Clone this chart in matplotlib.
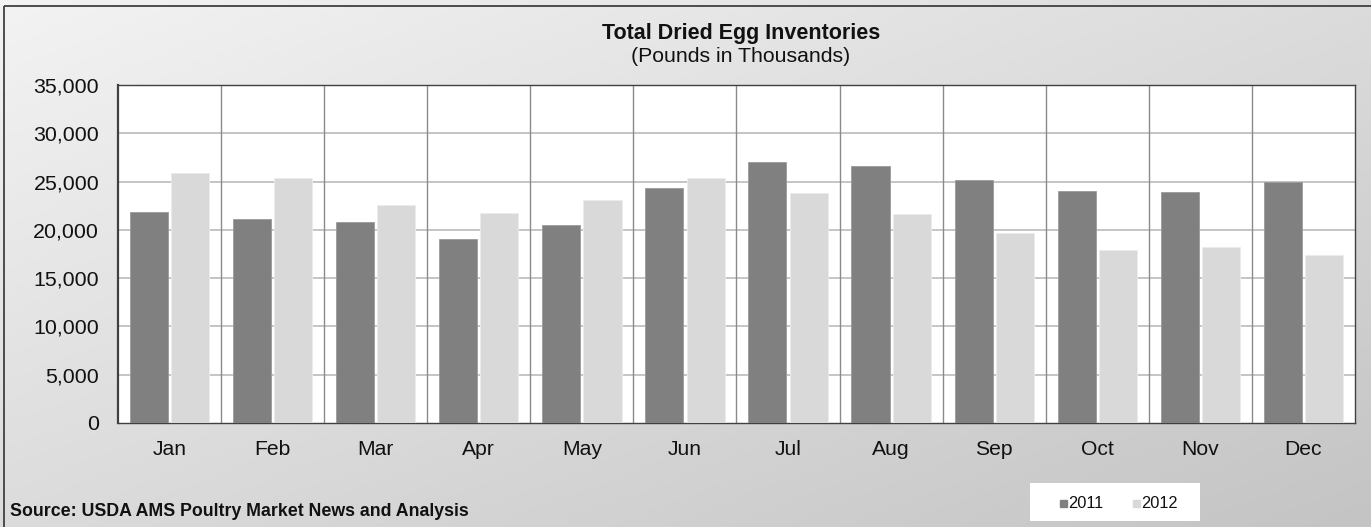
import numpy as np
import matplotlib
matplotlib.use("Agg")
import matplotlib.pyplot as plt
from matplotlib.patches import Rectangle

plt.rcParams['font.family'] = ['Liberation Sans', 'DejaVu Sans']

# data (pounds in thousands)
months = ['Jan', 'Feb', 'Mar', 'Apr', 'May', 'Jun', 'Jul', 'Aug', 'Sep', 'Oct', 'Nov', 'Dec']
inv_2011 = [21800, 21100, 20850, 19100, 20500, 24300, 27000, 26600, 25150, 24050, 23950, 25000]
inv_2012 = [25850, 25400, 22550, 21700, 23100, 25400, 23850, 21600, 19700, 17900, 18250, 17350]
yticks = [0, 5000, 10000, 15000, 20000, 25000, 30000, 35000]

W, H = 1371, 527
fig = plt.figure(figsize=(W / 100, H / 100), dpi=100)

# gradient background
bg = fig.add_axes([0, 0, 1, 1], zorder=-10)
gx, gy = np.meshgrid(np.linspace(0, 1, 300), np.linspace(0, 1, 120))
grad = 0.5 * gx + 0.5 * gy
cmap = matplotlib.colors.LinearSegmentedColormap.from_list('g', ['#f3f3f3', '#c4c4c4'])
bg.imshow(grad, cmap=cmap, aspect='auto', extent=[0, W, H, 0])
bg.set_xlim(0, W)
bg.set_ylim(H, 0)
bg.add_patch(Rectangle((4, 6), W + 10, H + 10, fill=False, ec='#404040', lw=1.3))
bg.axis('off')

ax = fig.add_axes([118 / W, 1 - 423 / H, (1355 - 118) / W, (423 - 85) / H])
ax.set_facecolor('white')

x = np.arange(len(months))
bw = 0.37
ax.bar(x - 0.2, inv_2011, bw, color='#808080', edgecolor='#9a9a9a', lw=0.6, zorder=3, label='2011')
ax.bar(x + 0.2, inv_2012, bw, color='#d9d9d9', edgecolor='#ececec', lw=0.6, zorder=3, label='2012')

ax.set_xlim(-0.5, 11.5)
ax.set_ylim(0, 35000)
ax.set_yticks(yticks)
ax.set_yticklabels([f'{v:,}' for v in yticks], fontsize=15.4, color='#111111')
ax.set_xticks(x)
ax.set_xticklabels(months, fontsize=15.2, color='#111111')
ax.tick_params(axis='y', length=0, pad=13.5)
ax.tick_params(axis='x', length=0, pad=12)

for yv in yticks[1:-1]:
    ax.axhline(yv, color='#c0c0c0', lw=1.3, zorder=1)
for xv in np.arange(0.5, 11.5, 1):
    ax.axvline(xv, color='#8a8a8a', lw=1.0, zorder=1)
for s in ax.spines.values():
    s.set_color('#404040')
    s.set_linewidth(1.0)
ax.spines['left'].set_linewidth(1.6)

fig.text(741.5 / W, 1 - 33 / H, 'Total Dried Egg Inventories', ha='center', va='center',
         fontsize=15.5, fontweight='bold', color='#111111')
fig.text(741 / W, 1 - 57 / H, '(Pounds in Thousands)', ha='center', va='center',
         fontsize=15.3, color='#111111')
fig.text(10 / W, 1 - 511 / H, 'Source: USDA AMS Poultry Market News and Analysis', ha='left', va='center',
         fontsize=12.8, fontweight='bold', color='#111111')

# legend box
lg = fig.add_axes([1030 / W, 1 - 521 / H, 170 / W, 38 / H])
lg.set_xlim(0, 170)
lg.set_ylim(0, 38)
lg.set_facecolor('white')
for s in lg.spines.values():
    s.set_visible(False)
lg.set_xticks([])
lg.set_yticks([])
lg.add_patch(Rectangle((30, 14.5), 7, 7, color='#808080'))
lg.text(38, 18, '2011', va='center', ha='left', fontsize=11.8, color='#111111')
lg.add_patch(Rectangle((103, 14.5), 7, 7, color='#d9d9d9'))
lg.text(111, 18, '2012', va='center', ha='left', fontsize=11.8, color='#111111')

fig.savefig('out.png', dpi=100)
